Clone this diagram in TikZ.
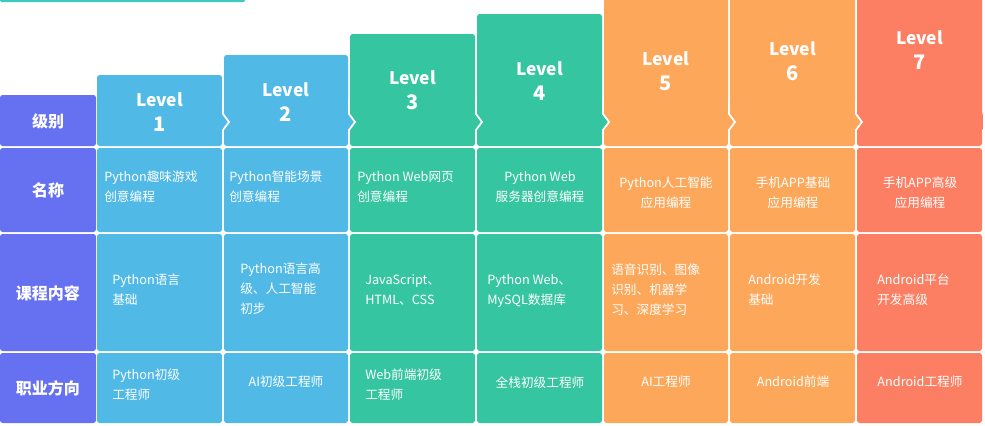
\documentclass[tikz,border=0pt]{standalone}
\usepackage{fontspec}
\setmainfont{Noto Sans CJK SC}
\begin{document}
\begin{tikzpicture}[x=0.75pt,y=-0.75pt,
 cell/.style={rounded corners=2pt},
 t/.style={text=white,font=\fontsize{9.5pt}{15pt}\selectfont,inner sep=0pt,align=left,anchor=north west},
 tc/.style={text=white,font=\fontsize{9.5pt}{15pt}\selectfont,inner sep=0pt,align=center,anchor=north},
 rl/.style={text=white,font=\fontsize{12pt}{14pt}\selectfont\bfseries},
 lv/.style={text=white,font=\fontsize{13pt}{15pt}\selectfont\bfseries},
 num/.style={text=white,font=\fontsize{15pt}{17pt}\selectfont\bfseries}]
\definecolor{cp}{HTML}{6571F0}
\definecolor{cb}{HTML}{50B9E6}
\definecolor{cg}{HTML}{35C5A0}
\definecolor{co}{HTML}{FCA75A}
\definecolor{cr}{HTML}{FD7F63}
\definecolor{ct}{HTML}{3CC9C0}
\useasboundingbox (0,0) rectangle (985,425);
\fill[ct,rounded corners=1pt] (0,-3) rectangle (245,2);
% label column
\fill[cp,cell] (0,95) rectangle (96,146);
\fill[cp,cell] (0,148) rectangle (96,232);
\fill[cp,cell] (0,234) rectangle (96,351);
\fill[cp,cell] (0,353) rectangle (96,423);
\node[rl] (r1) at (48,121) {级别};
\node[rl] (r2) at (48,190) {名称};
\node[rl] (r3) at (48,293) {课程内容};
\node[rl] (r4) at (48,388) {职业方向};
% headers
\foreach \xa/\xb/\tp/\c/\n/\ly in {97/222/75/cb/1/100, 224/348/55/cb/2/90, 350/475/34/cg/3/78, 477/602/14/cg/4/69, 604/728/-5/co/5/59, 730/855/-5/co/6/49, 857/982/-5/cr/7/38}{
 \fill[\c,rounded corners=2pt] (\xa,\tp) -- (\xb,\tp) -- (\xb,114) [sharp corners] -- (\xb+6,122) -- (\xb,130) [rounded corners=2pt] -- (\xb,146) -- (\xa,146) [sharp corners] -- (\xa,130) -- (\xa+6,122) -- (\xa,114) [rounded corners=2pt] -- cycle;
 \node[lv] (l\n) at ({(\xa+\xb)/2},\ly) {Level};
 \node[num] (n\n) at ({(\xa+\xb)/2},\ly+24) {\n};
 \fill[\c,cell] (\xa,148) rectangle (\xb,232);
 \fill[\c,cell] (\xa,234) rectangle (\xb,351);
 \fill[\c,cell] (\xa,353) rectangle (\xb,423);
}
% cover col1 left notch and col7 right arrow
\fill[cb] (97,112) rectangle (104,132);
\fill[white] (982.5,110) rectangle (990,134);
\fill[cr] (976,112) rectangle (982,132);
% white arrow outlines
\foreach \xb in {222,348,475,602,728,855}{
 \draw[white,line width=1.2pt] (\xb+1,100) -- (\xb+1,114) -- (\xb+7,122) -- (\xb+1,130) -- (\xb+1,146);
}
% row 2
\node[t] (a1) at (104,171) {Python趣味游戏\\创意编程};
\node[t] (a2) at (229,171) {Python智能场景\\创意编程};
\node[t] (a3) at (357,171) {Python Web网页\\创意编程};
\node[tc] (a4) at (540,171) {Python Web\\服务器创意编程};
\node[tc] (a5) at (666,177) {Python人工智能\\应用编程};
\node[tc] (a6) at (793,177) {手机APP基础\\应用编程};
\node[tc] (a7) at (920,177) {手机APP高级\\应用编程};
% row 3
\node[t] (b1) at (112,274) {Python语言\\基础};
\node[t] (b2) at (240,263) {Python语言高\\级、人工智能\\初步};
\node[t] (b3) at (365,274) {JavaScript、\\HTML、CSS};
\node[t] (b4) at (487,274) {Python Web、\\MySQL数据库};
\node[t] (b5) at (611,263) {语音识别、图像\\识别、机器学\\习、深度学习};
\node[t] (b6) at (748,274) {Android开发\\基础};
\node[t] (b7) at (877,274) {Android平台\\开发高级};
% row 4
\node[t] (c1) at (112,369) {Python初级\\工程师};
\node[tc] (c2) at (286,376) {AI初级工程师};
\node[t] (c3) at (365,369) {Web前端初级\\工程师};
\node[tc] (c4) at (540,376) {全栈初级工程师};
\node[tc] (c5) at (666,376) {AI工程师};
\node[tc] (c6) at (793,376) {Android前端};
\node[tc] (c7) at (920,376) {Android工程师};
\end{tikzpicture}
\end{document}
